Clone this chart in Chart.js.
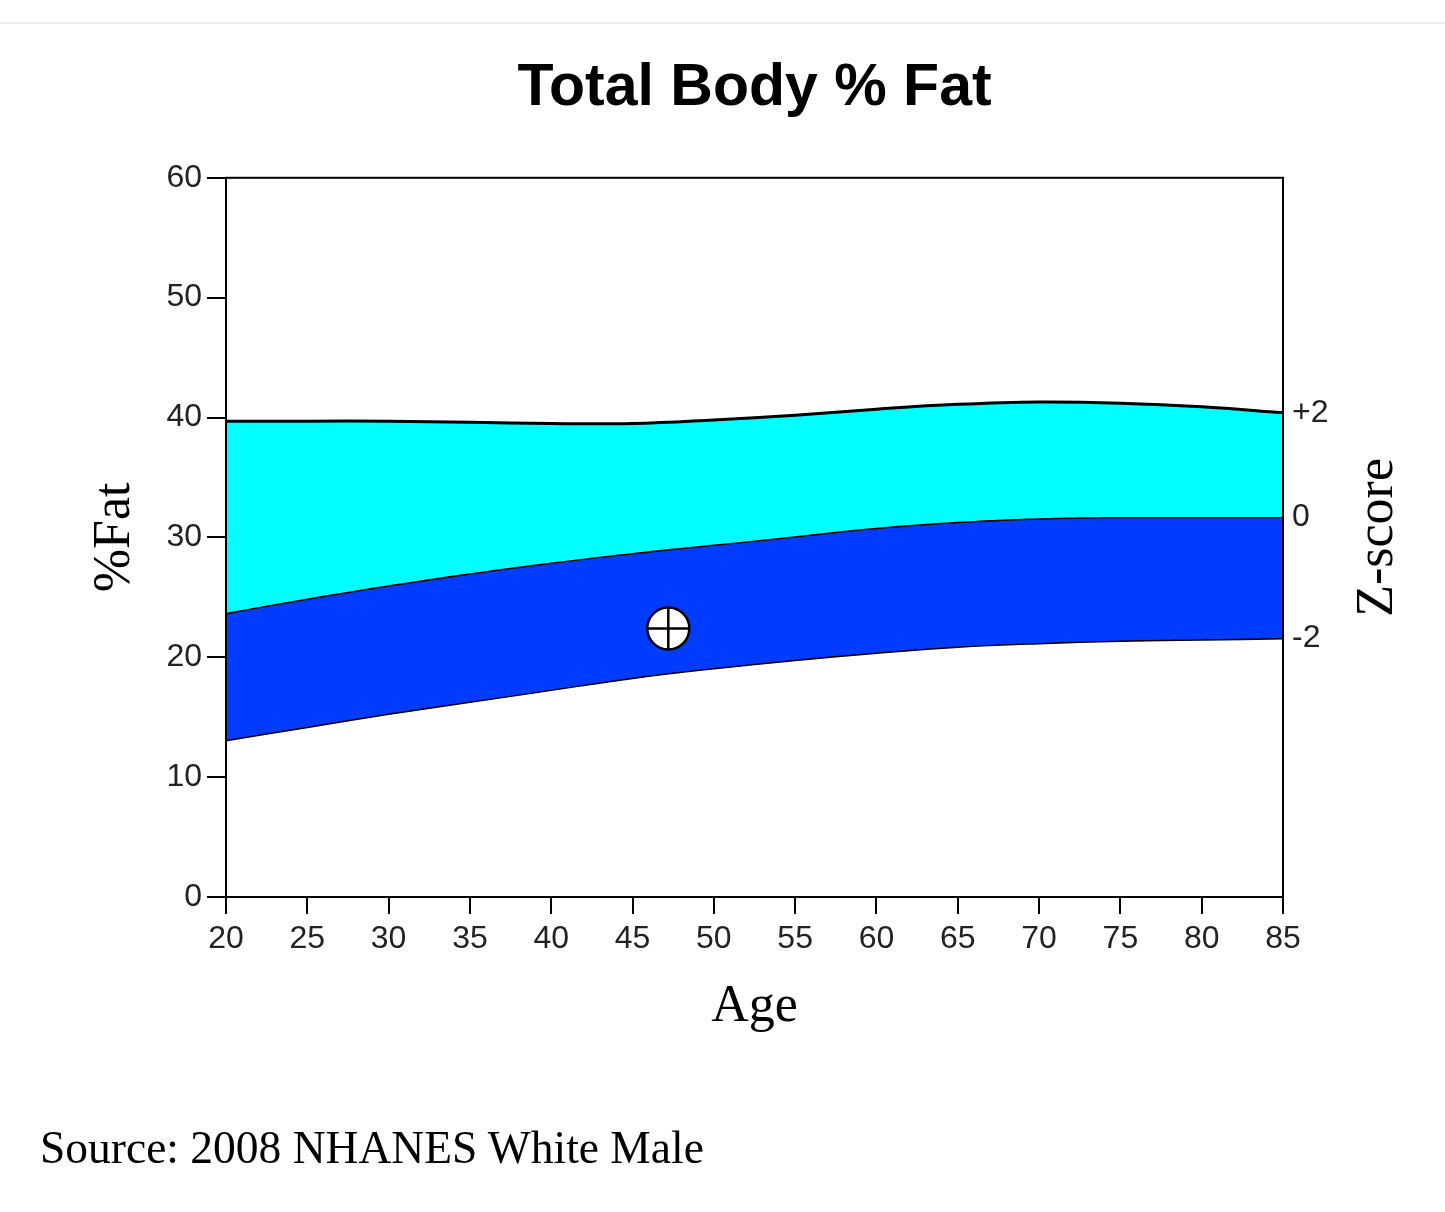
<!DOCTYPE html>
<html>
<head>
<meta charset="utf-8">
<script src="https://cdn.jsdelivr.net/npm/chart.js@4/dist/chart.umd.min.js"></script>
<style>
  html, body { margin: 0; padding: 0; background: #ffffff; }
  body { width: 1445px; height: 1212px; position: relative; overflow: hidden; }
  #topline { position: absolute; left: 0; top: 22px; width: 1445px; height: 2px; background: #ececec; }
  #wrap { position: absolute; left: 0; top: 0; width: 1445px; height: 1212px; }
  #source { position: absolute; left: 40px; top: 1125px; font-family: 'Liberation Serif', 'Times New Roman', serif; font-size: 45.5px; line-height: 45px; color: #000; white-space: nowrap; }
</style>
</head>
<body>
<div id="topline"></div>
<div id="wrap"><canvas id="c" width="1445" height="1212"></canvas></div>
<div id="source">Source: 2008 NHANES White Male</div>
<script>
// ---- Data ----
const ages = [20, 25, 30, 35, 40, 45, 50, 55, 60, 65, 70, 75, 80, 85];
const upperPlus2 = [39.7, 39.7, 39.7, 39.6, 39.5, 39.5, 39.8, 40.2, 40.7, 41.1, 41.3, 41.2, 40.9, 40.4];
const median0   = [23.7, 24.9, 26.0, 27.0, 27.9, 28.7, 29.4, 30.1, 30.8, 31.3, 31.6, 31.7, 31.7, 31.7];
const lowerMinus2 = [13.1, 14.2, 15.3, 16.3, 17.3, 18.3, 19.1, 19.8, 20.4, 20.9, 21.2, 21.4, 21.5, 21.6];
const patientAge = [47.2];
const patientFat = [22.4];
const xTicks = [20, 25, 30, 35, 40, 45, 50, 55, 60, 65, 70, 75, 80, 85];
const yTicks = [0, 10, 20, 30, 40, 50, 60];
const zLabels = ['+2', '0', '-2'];
const zValues = [upperPlus2[upperPlus2.length - 1], median0[median0.length - 1], lowerMinus2[lowerMinus2.length - 1]];

const toXY = (xs, ys) => xs.map((x, i) => ({ x: x, y: ys[i] }));

const tickFont = { family: "'Liberation Sans', Arial, sans-serif", size: 32 };
const serifFont = { family: "'Liberation Serif', 'Times New Roman', serif", size: 52 };

const framePlugin = {
  id: 'frame',
  afterDatasetsDraw(chart) {
    const { ctx, chartArea: a } = chart;
    ctx.save();
    ctx.strokeStyle = '#000';
    ctx.lineWidth = 2;
    ctx.strokeRect(a.left, a.top, a.right - a.left, a.bottom - a.top);
    ctx.restore();
  },
  afterDraw(chart) {
    const { ctx, chartArea: a } = chart;
    ctx.save();
    ctx.fillStyle = '#000';
    ctx.font = "52px 'Liberation Serif', 'Times New Roman', serif";
    ctx.textAlign = 'center';
    ctx.textBaseline = 'middle';
    ctx.translate(1378, (a.top + a.bottom) / 2);
    ctx.rotate(-Math.PI / 2);
    ctx.fillText('Z-score', 0, 0);
    ctx.restore();
  }
};

new Chart(document.getElementById('c'), {
  type: 'line',
  data: {
    datasets: [
      {
        label: '+2',
        data: toXY(ages, upperPlus2),
        borderColor: '#000',
        borderWidth: 3,
        backgroundColor: '#00FFFF',
        fill: '+1',
        pointRadius: 0,
        tension: 0.4,
        order: 3
      },
      {
        label: '0',
        data: toXY(ages, median0),
        borderColor: '#000',
        borderWidth: 3,
        backgroundColor: '#003CFF',
        fill: '+1',
        pointRadius: 0,
        tension: 0.4,
        order: 3
      },
      {
        label: '-2',
        data: toXY(ages, lowerMinus2),
        borderColor: '#000',
        borderWidth: 3,
        fill: false,
        pointRadius: 0,
        tension: 0.4,
        order: 3
      },
      {
        label: 'Patient',
        data: toXY(patientAge, patientFat),
        showLine: false,
        pointStyle: 'circle',
        pointRadius: 21,
        pointBackgroundColor: '#ffffff',
        pointBorderColor: '#000',
        pointBorderWidth: 2.5,
        order: 2
      },
      {
        label: 'PatientCross',
        data: toXY(patientAge, patientFat),
        showLine: false,
        pointStyle: 'cross',
        pointRadius: 21,
        pointBorderColor: '#000',
        pointBorderWidth: 2.5,
        order: 1
      }
    ]
  },
  options: {
    responsive: false,
    animation: false,
    events: [],
    layout: { padding: { top: 53, left: 0, right: 0, bottom: 0 } },
    plugins: {
      legend: { display: false },
      tooltip: { enabled: false },
      title: {
        display: true,
        text: 'Total Body % Fat',
        fullSize: false,
        color: '#000',
        font: { family: "'Liberation Sans', Arial, sans-serif", size: 59, weight: 'bold', lineHeight: 1.2 },
        padding: { top: 0, bottom: 54 }
      }
    },
    scales: {
      x: {
        type: 'linear',
        position: 'bottom',
        min: 20,
        max: 85,
        afterBuildTicks(s) { s.ticks = xTicks.map(v => ({ value: v })); },
        afterFit(s) { s.height = 315; },
        border: { display: false },
        grid: { drawOnChartArea: false, drawTicks: true, tickLength: 17, color: '#000', lineWidth: 2 },
        ticks: { color: '#222', font: tickFont, padding: 6, maxRotation: 0, autoSkip: false },
        title: { display: true, text: 'Age', color: '#000', font: serifFont, padding: { top: 0, bottom: 173 } }
      },
      y: {
        type: 'linear',
        position: 'left',
        min: 0,
        max: 60,
        afterBuildTicks(s) { s.ticks = yTicks.map(v => ({ value: v })); },
        afterFit(s) { s.width = 226; },
        border: { display: false },
        grid: { drawOnChartArea: false, drawTicks: true, tickLength: 19, color: '#000', lineWidth: 2 },
        ticks: { color: '#222', font: tickFont, padding: 5 },
        title: { display: true, text: '%Fat', color: '#000', font: serifFont, padding: { top: 84, bottom: 0 } }
      },
      y2: {
        type: 'linear',
        position: 'right',
        min: 0,
        max: 60,
        afterBuildTicks(s) { s.ticks = zValues.map(v => ({ value: v })); },
        afterFit(s) { s.width = 162; },
        border: { display: false },
        grid: { display: false, drawOnChartArea: false, drawTicks: false },
        ticks: {
          color: '#222',
          font: tickFont,
          padding: 9,
          callback(value, index) { return zLabels[index]; }
        }
      }
    }
  },
  plugins: [framePlugin]
});
</script>
</body>
</html>
